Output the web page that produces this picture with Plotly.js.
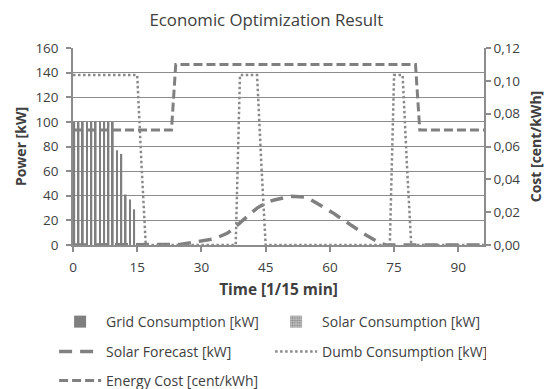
<!DOCTYPE html>
<html>
<head>
<meta charset="utf-8">
<script src="https://cdn.plot.ly/plotly-3.0.1.min.js"></script>
<style>html,body{margin:0;padding:0;background:#fff;}#chart{width:555px;height:389px;}</style>
</head>
<body>
<div id="chart"></div>
<script>
// Time index (1/15 min slots)
var timeSlots = [0,1,2,3,4,5,6,7,8,9,10,11,12,13,14,15,16,17,18,19,20,21,22,23,24,25,26,27,28,29,30,31,32,33,34,35,36,37,38,39,40,41,42,43,44,45,46,47,48,49,50,51,52,53,54,55,56,57,58,59,60,61,62,63,64,65,66,67,68,69,70,71,72,73,74,75,76,77,78,79,80,81,82,83,84,85,86,87,88,89,90,91,92,93,94,95,96];
var gridConsumption = [100,100,100,100,100,100,100,100,100,100,77,74,41,37,29,0,0,0,0,0,0,0,0,0,0,0,0,0,0,0,0,0,0,0,0,0,0,0,0,0,0,0,0,0,0,0,0,0,0,0,0,0,0,0,0,0,0,0,0,0,0,0,0,0,0,0,0,0,0,0,0,0,0,0,0,0,0,0,0,0,0,0,0,0,0,0,0,0,0,0,0,0,0,0,0,0,0];
var solarConsumption = [0,0,0,0,0,0,0,0,0,0,0,0,0,0,0,0,0,0,0,0,0,0,0,0,0,0,0,0,0,0,0,0,0,0,0,0,0,0,0,0,0,0,0,0,0,0,0,0,0,0,0,0,0,0,0,0,0,0,0,0,0,0,0,0,0,0,0,0,0,0,0,0,0,0,0,0,0,0,0,0,0,0,0,0,0,0,0,0,0,0,0,0,0,0,0,0,0];
var solarForecast = [0,0,0,0,0,0,0,0,0,0,0,0,0,0,0,0,0,0,0,0,0,0,0,0,0,0.5,1,1.5,2,2.5,3,4,4.5,5,6.5,8,9.5,12,15,18,21,24,27,30,32,34,35.5,36.5,37.5,38.5,39,39.5,39.5,39.5,39,38,36,34,32,30,28,25.5,23,21,18.5,16,14,11.5,9,7,4.5,2.5,1,0.3,0,0,0,0,0,0,0,0,0,0,0,0,0,0,0,0,0,0,0,0,0,0,0];
var dumbConsumption = [138,138,138,138,138,138,138,138,138,138,138,138,138,138,138,138,65,0,0,0,0,0,0,0,0,0,0,0,0,0,0,0,0,0,0,0,0,0,0,138,138,138,138,138,65,0,0,0,0,0,0,0,0,0,0,0,0,0,0,0,0,0,0,0,0,0,0,0,0,0,0,0,0,0,0,138,138,138,65,0,0,0,0,0,0,0,0,0,0,0,0,0,0,0,0,0,0];
var energyCost = [0.07,0.07,0.07,0.07,0.07,0.07,0.07,0.07,0.07,0.07,0.07,0.07,0.07,0.07,0.07,0.07,0.07,0.07,0.07,0.07,0.07,0.07,0.07,0.07,0.11,0.11,0.11,0.11,0.11,0.11,0.11,0.11,0.11,0.11,0.11,0.11,0.11,0.11,0.11,0.11,0.11,0.11,0.11,0.11,0.11,0.11,0.11,0.11,0.11,0.11,0.11,0.11,0.11,0.11,0.11,0.11,0.11,0.11,0.11,0.11,0.11,0.11,0.11,0.11,0.11,0.11,0.11,0.11,0.11,0.11,0.11,0.11,0.11,0.11,0.11,0.11,0.11,0.11,0.11,0.11,0.11,0.07,0.07,0.07,0.07,0.07,0.07,0.07,0.07,0.07,0.07,0.07,0.07,0.07,0.07,0.07,0.07];
var powerTicks = [0,20,40,60,80,100,120,140,160];
var costTicks = [0,0.02,0.04,0.06,0.08,0.10,0.12];
var timeTicks = [0,15,30,45,60,75,90];

var FONT = '"Open Sans", sans-serif';
var TXT = '#404040';
var GRAY = '#808080';
var AX = '#8c8c8c';

var traces = [
  {type:'bar', name:'Grid Consumption [kW]', x:timeSlots, y:gridConsumption, legend:'legend',
   width:0.42, offset:0.08, marker:{color:'#7f7f7f', line:{width:0}}},
  {type:'bar', name:'Solar Consumption [kW]', x:timeSlots, y:solarConsumption, legend:'legend',
   width:0.42, offset:0.5, marker:{color:'#d0d0d0', line:{width:0}, pattern:{shape:'.', fgcolor:'#8a8a8a', bgcolor:'#d0d0d0', size:3, solidity:0.5}}},
  {type:'scatter', mode:'lines', name:'Solar Forecast [kW]', x:timeSlots, y:solarForecast, legend:'legend2',
   line:{color:GRAY, width:3.5, dash:'13px,8px'}},
  {type:'scatter', mode:'lines', name:'Dumb Consumption [kW]', x:timeSlots, y:dumbConsumption, legend:'legend2',
   line:{color:'#8a8a8a', width:2.5, dash:'2.5px,2.5px'}},
  {type:'scatter', mode:'lines', name:'Energy Cost [cent/kWh]', x:timeSlots, y:energyCost, yaxis:'y2', legend:'legend3',
   line:{color:GRAY, width:3, dash:'9px,4px'}}
];

function legendRow(yPaper) {
  return {orientation:'h', x:-0.046, xanchor:'left', y:yPaper, yanchor:'middle',
          entrywidth:159, entrywidthmode:'pixels', itemwidth:42,
          font:{family:FONT, size:14, color:TXT}, traceorder:'normal', bgcolor:'rgba(0,0,0,0)'};
}

var layout = {
  width:555, height:389,
  margin:{l:73, r:71, t:48, b:144, autoexpand:false},
  paper_bgcolor:'#fff', plot_bgcolor:'#fff',
  font:{family:FONT, size:13.5, color:TXT},
  separators:',.',
  showlegend:true,
  barmode:'overlay',
  title:{text:'Economic Optimization Result', x:0.48, xanchor:'center', y:0.947, yanchor:'middle', yref:'container',
         font:{family:FONT, size:16.8, color:TXT}},
  xaxis:{range:[0,96], tickvals:timeTicks, ticktext:timeTicks.map(String),
         showgrid:false, zeroline:false, showline:true, linecolor:AX, linewidth:1.5,
         ticks:'outside', ticklen:5, tickcolor:AX, tickwidth:1.5, ticklabelstandoff:4,
         tickfont:{family:FONT, size:13.5, color:TXT},
         title:{text:'<b>Time [1/15 min]</b>', standoff:9, font:{family:FONT, size:15.4, color:TXT}}},
  yaxis:{range:[0,160], tickvals:powerTicks, ticktext:powerTicks.map(String),
         showgrid:true, gridcolor:AX, gridwidth:1.3, zeroline:false,
         showline:true, linecolor:AX, linewidth:1.5,
         ticks:'outside', ticklen:5, tickcolor:AX, tickwidth:1.5, ticklabelstandoff:5,
         tickfont:{family:FONT, size:13.5, color:TXT},
         title:{text:'<b>Power [kW]</b>', standoff:5, font:{family:FONT, size:14, color:TXT}}},
  yaxis2:{range:[0,0.12], overlaying:'y', side:'right', tickvals:costTicks, tickformat:'.2f',
          showgrid:false, zeroline:false, showline:true, linecolor:AX, linewidth:1.5,
          ticks:'outside', ticklen:5, tickcolor:AX, tickwidth:1.5,
          tickfont:{family:FONT, size:13.5, color:TXT},
          title:{text:'<b>Cost [cent/kWh]</b>', standoff:12, font:{family:FONT, size:14, color:TXT}}},
  legend:legendRow(-0.391),
  legend2:legendRow(-0.543),
  legend3:legendRow(-0.690)
};

Plotly.newPlot('chart', traces, layout, {displayModeBar:false, responsive:false});
</script>
</body>
</html>
